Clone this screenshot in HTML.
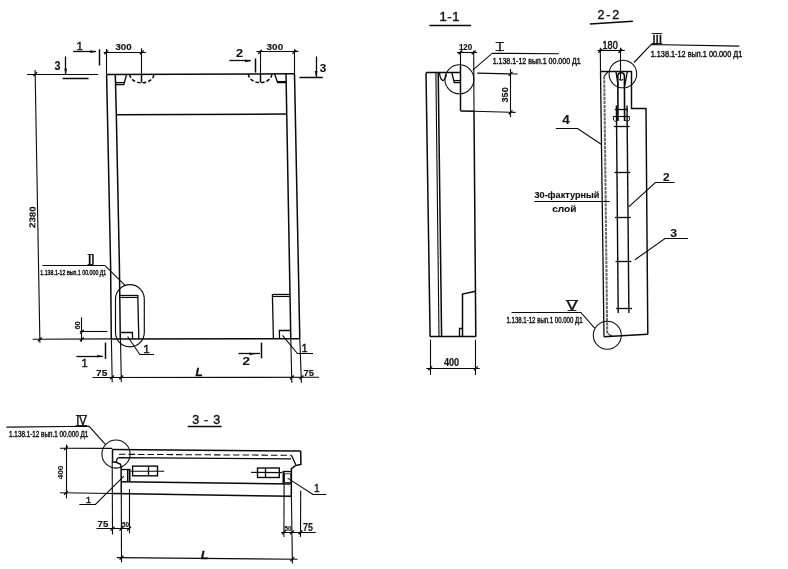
<!DOCTYPE html>
<html><head><meta charset="utf-8"><title>Drawing</title>
<style>
html,body{margin:0;padding:0;background:#fff;}
svg{display:block;filter:grayscale(1);font-family:"Liberation Sans",sans-serif;}
</style></head>
<body>
<svg width="788" height="569" viewBox="0 0 788 569" stroke="#0a0a0a" stroke-linecap="butt" stroke-linejoin="miter">
<rect x="0" y="0" width="788" height="569" fill="#fff" stroke="none"/>
<line x1="106.5" y1="74.5" x2="294.5" y2="73.8" stroke-width="1.5" />
<polyline points="106.6,74.5 110.6,265 111.3,338.9" stroke-width="1.5" fill="none" />
<polyline points="115.3,74.5 116.3,114 119.4,265 120.3,338.9" stroke-width="1.5" fill="none" />
<line x1="294.5" y1="73.8" x2="299.8" y2="338.7" stroke-width="1.5" />
<line x1="286" y1="73.8" x2="290.8" y2="338.7" stroke-width="1.5" />
<line x1="111.3" y1="338.9" x2="299.8" y2="338.7" stroke-width="1.5" />
<line x1="32.6" y1="339.2" x2="111.3" y2="338.9" stroke-width="1.1" />
<line x1="116" y1="114.7" x2="286.8" y2="114.1" stroke-width="1.5" />
<polyline points="126.6,74.5 123.8,84.5 115.4,84.5" stroke-width="1.3" fill="none" />
<line x1="115.3" y1="82.5" x2="124.2" y2="82.5" stroke-width="1.1" />
<path d="M129.8,74.5 A12,8.3 0 0 0 153.8,74.5" stroke-width="1.5" fill="none" stroke-dasharray="3.6 2"/>
<line x1="141.5" y1="74.5" x2="141.5" y2="82.6" stroke-width="1.5" />
<polyline points="274.5,73.8 277.6,82.5 286.2,82.5" stroke-width="1.3" fill="none" />
<line x1="277.4" y1="81.5" x2="286.2" y2="81.5" stroke-width="1.1" />
<path d="M248.4,74 A11.7,8.6 0 0 0 271.8,74" stroke-width="1.5" fill="none" stroke-dasharray="3.6 2"/>
<line x1="260.5" y1="73.7" x2="260.5" y2="82.4" stroke-width="1.5" />
<line x1="103.7" y1="52.5" x2="145.9" y2="52.5" stroke-width="1.1" />
<line x1="106.5" y1="49" x2="106.5" y2="74" stroke-width="1.1" />
<line x1="141.5" y1="48.3" x2="141.5" y2="74" stroke-width="1.1" />
<line x1="104.4" y1="54.2" x2="108.2" y2="50.4" stroke-width="1.3" />
<line x1="139.9" y1="54.2" x2="143.7" y2="50.4" stroke-width="1.3" />
<text x="115.4" y="50.4" font-size="9" font-weight="bold" text-anchor="start" stroke="#111" stroke-width="0.12" fill="#111" textLength="16.3" lengthAdjust="spacingAndGlyphs" >300</text>
<line x1="256.4" y1="51.5" x2="298.5" y2="51.5" stroke-width="1.1" />
<line x1="260.5" y1="50.3" x2="260.5" y2="73.7" stroke-width="1.1" />
<line x1="294.5" y1="49.3" x2="294.5" y2="73.7" stroke-width="1.1" />
<line x1="258.2" y1="53.8" x2="262.0" y2="50.0" stroke-width="1.3" />
<line x1="292.5" y1="53.8" x2="296.3" y2="50.0" stroke-width="1.3" />
<text x="266.6" y="50" font-size="9.2" font-weight="bold" text-anchor="start" stroke="#111" stroke-width="0.12" fill="#111" textLength="16.6" lengthAdjust="spacingAndGlyphs" >300</text>
<text x="76.4" y="49.7" font-size="11.6" font-weight="normal" text-anchor="start" stroke="#111" stroke-width="0.4" fill="#111" >1</text>
<line x1="73.2" y1="51.5" x2="96.1" y2="51.5" stroke-width="1.3" />
<polygon points="96.3,51.7 90.3,50.300000000000004 90.3,53.1" fill="#111" stroke="none"/>
<line x1="99.5" y1="49.3" x2="99.5" y2="65.5" stroke-width="1.5" />
<text x="54.6" y="70.2" font-size="12" font-weight="bold" text-anchor="start" stroke="#111" stroke-width="0.12" fill="#111" textLength="6" lengthAdjust="spacingAndGlyphs" >3</text>
<line x1="65.5" y1="56.4" x2="65.5" y2="74.5" stroke-width="1.3" />
<polygon points="65.7,74.7 64.3,68.7 67.10000000000001,68.7" fill="#111" stroke="none"/>
<line x1="62.6" y1="78.5" x2="88.6" y2="78.5" stroke-width="1.5" />
<text x="236" y="57.4" font-size="10" font-weight="bold" text-anchor="start" stroke="#111" stroke-width="0.12" fill="#111" textLength="7" lengthAdjust="spacingAndGlyphs" >2</text>
<line x1="229.4" y1="60.5" x2="250.8" y2="60.5" stroke-width="1.3" />
<polygon points="251,60.9 245,59.5 245,62.3" fill="#111" stroke="none"/>
<line x1="255.5" y1="58.4" x2="255.5" y2="72.6" stroke-width="1.5" />
<line x1="316.5" y1="56.4" x2="316.5" y2="77" stroke-width="1.3" />
<polygon points="316.1,77 314.70000000000005,71 317.5,71" fill="#111" stroke="none"/>
<line x1="299.5" y1="77.5" x2="322.8" y2="77.5" stroke-width="1.5" />
<text x="319.8" y="71.6" font-size="11" font-weight="bold" text-anchor="start" stroke="#111" stroke-width="0.12" fill="#111" textLength="6.5" lengthAdjust="spacingAndGlyphs" >3</text>
<line x1="105.5" y1="342.6" x2="105.5" y2="358.9" stroke-width="1.5" />
<line x1="76.4" y1="356.5" x2="103" y2="356.5" stroke-width="1.3" />
<polygon points="103.3,356.2 97.3,354.8 97.3,357.59999999999997" fill="#111" stroke="none"/>
<text x="81.6" y="367.4" font-size="11.2" font-weight="normal" text-anchor="start" stroke="#111" stroke-width="0.4" fill="#111" >1</text>
<line x1="261.5" y1="342.7" x2="261.5" y2="358.3" stroke-width="1.5" />
<line x1="238.5" y1="353.5" x2="260" y2="353.5" stroke-width="1.3" />
<polygon points="255,353.9 249.5,352.5 249.5,355.29999999999995" fill="#111" stroke="none"/>
<text x="242.5" y="365.4" font-size="10.5" font-weight="bold" text-anchor="start" stroke="#111" stroke-width="0.12" fill="#111" textLength="7.5" lengthAdjust="spacingAndGlyphs" >2</text>
<line x1="35.1" y1="70" x2="39.9" y2="342.8" stroke-width="1.1" />
<line x1="27.1" y1="74.5" x2="98.2" y2="74.5" stroke-width="1.1" />
<line x1="33.3" y1="75.96" x2="37.1" y2="72.16" stroke-width="1.3" />
<line x1="37.95" y1="341.3" x2="41.75" y2="337.5" stroke-width="1.3" />
<text x="35.2" y="227.9" font-size="8.6" font-weight="bold" text-anchor="start" stroke="#111" stroke-width="0.12" fill="#111" textLength="21.4" lengthAdjust="spacingAndGlyphs" transform="rotate(-89 35.2 227.9)" >2380</text>
<line x1="42.5" y1="265.5" x2="105.3" y2="265.5" stroke-width="1.1" />
<line x1="105.3" y1="265.9" x2="125.6" y2="285.8" stroke-width="1.1" />
<text x="87.8" y="264.3" font-size="13.5" font-weight="normal" text-anchor="start" stroke="#111" stroke-width="0.45" fill="#111" letter-spacing="-0.45">II</text>
<line x1="87.6" y1="254.5" x2="93.6" y2="254.5" stroke-width="0.9" />
<line x1="87.6" y1="264.5" x2="93.6" y2="264.5" stroke-width="0.9" />
<text x="40.3" y="274.8" font-size="7.2" font-weight="normal" text-anchor="start" stroke="#111" stroke-width="0.4" fill="#111" textLength="66" lengthAdjust="spacingAndGlyphs" >1.138.1-12 вып.1 00.000 Д1</text>
<rect x="115.5" y="284.6" width="28.8" height="62.3" rx="14.4" ry="14.4" stroke-width="1.15" fill="none"/>
<line x1="119.7" y1="295.5" x2="138" y2="295.5" stroke-width="1.3" />
<line x1="119.7" y1="297.5" x2="138" y2="297.5" stroke-width="1.1" />
<line x1="137.8" y1="295" x2="138.8" y2="339.3" stroke-width="1.3" />
<polyline points="120.4,332.5 132.4,332.5 132.6,339.3" stroke-width="1.3" fill="none" />
<line x1="272.4" y1="294.4" x2="273.4" y2="339" stroke-width="1.3" />
<line x1="272.4" y1="294.5" x2="289.7" y2="294.5" stroke-width="1.3" />
<line x1="272.4" y1="296.5" x2="289.7" y2="296.5" stroke-width="1.1" />
<polyline points="279.5,339 279.4,330.5 290.7,330.5" stroke-width="1.3" fill="none" />
<line x1="81.5" y1="317.3" x2="81.5" y2="341.8" stroke-width="1.1" />
<line x1="79.9" y1="331.5" x2="107.3" y2="331.5" stroke-width="1.1" />
<line x1="80.0" y1="333.6" x2="83.8" y2="329.8" stroke-width="1.3" />
<line x1="80.0" y1="341.3" x2="83.8" y2="337.5" stroke-width="1.3" />
<text x="79.8" y="329.6" font-size="7.5" font-weight="bold" text-anchor="start" stroke="#111" stroke-width="0.12" fill="#111" textLength="8.3" lengthAdjust="spacingAndGlyphs" transform="rotate(-90 79.8 329.6)" >60</text>
<line x1="111.4" y1="339.3" x2="112.2" y2="382.2" stroke-width="1.1" />
<line x1="120.5" y1="339.3" x2="121.3" y2="382.2" stroke-width="1.1" />
<line x1="290.8" y1="338.7" x2="291.8" y2="382.7" stroke-width="1.1" />
<line x1="299.8" y1="338.7" x2="301.4" y2="382.7" stroke-width="1.1" />
<line x1="92.5" y1="377.5" x2="319" y2="377.3" stroke-width="1.1" />
<line x1="110.2" y1="379.3" x2="114.0" y2="375.5" stroke-width="1.3" />
<line x1="119.3" y1="379.3" x2="123.1" y2="375.5" stroke-width="1.3" />
<line x1="290.0" y1="379.3" x2="293.8" y2="375.5" stroke-width="1.3" />
<line x1="299.6" y1="379.3" x2="303.4" y2="375.5" stroke-width="1.3" />
<text x="96.1" y="375.8" font-size="9.3" font-weight="bold" text-anchor="start" stroke="#111" stroke-width="0.12" fill="#111" textLength="11.2" lengthAdjust="spacingAndGlyphs" >75</text>
<text x="195.6" y="375.8" font-size="11" font-weight="bold" text-anchor="start" stroke="#111" stroke-width="0.3" fill="#111" textLength="7.2" lengthAdjust="spacingAndGlyphs" font-style="italic">L</text>
<text x="303.5" y="375.7" font-size="9.6" font-weight="bold" text-anchor="start" stroke="#111" stroke-width="0.12" fill="#111" textLength="10.5" lengthAdjust="spacingAndGlyphs" >75</text>
<polyline points="127.6,336.5 139.8,354.5 154,354.5" stroke-width="1.1" fill="none" />
<text x="143.2" y="353.2" font-size="11.6" font-weight="normal" text-anchor="start" stroke="#111" stroke-width="0.4" fill="#111" >1</text>
<polyline points="282.5,335.4 297.4,353.5 313,353.5" stroke-width="1.1" fill="none" />
<text x="301.6" y="352" font-size="11" font-weight="normal" text-anchor="start" stroke="#111" stroke-width="0.4" fill="#111" >1</text>
<text x="439.6" y="21.3" font-size="13" font-weight="normal" text-anchor="start" stroke="#111" stroke-width="0.4" fill="#111" textLength="19.8" lengthAdjust="spacing" >1-1</text>
<line x1="429.4" y1="25.5" x2="471.1" y2="25.5" stroke-width="1.5" />
<text x="458.9" y="49.8" font-size="9.3" font-weight="bold" text-anchor="start" stroke="#111" stroke-width="0.12" fill="#111" textLength="13.4" lengthAdjust="spacingAndGlyphs" >120</text>
<line x1="456.9" y1="52.5" x2="477.2" y2="52.5" stroke-width="1.1" />
<line x1="458.6" y1="54.3" x2="462.4" y2="50.5" stroke-width="1.3" />
<line x1="471.8" y1="54.3" x2="475.6" y2="50.5" stroke-width="1.3" />
<line x1="460.5" y1="50.8" x2="460.5" y2="66" stroke-width="1.1" />
<line x1="460.5" y1="66" x2="460.5" y2="110.9" stroke-width="1.5" />
<line x1="473.7" y1="50.8" x2="474" y2="111.2" stroke-width="1.1" />
<circle cx="459.4" cy="79.3" r="14.5" stroke-width="1.05" fill="none"/>
<polyline points="472.7,70.1 492.4,53.2 558.9,53.8" stroke-width="1.1" fill="none" />
<text x="498.2" y="50.6" font-size="11.5" font-weight="normal" text-anchor="start" stroke="#111" stroke-width="0.5" fill="#111" >I</text>
<line x1="495.6" y1="42.5" x2="504" y2="42.5" stroke-width="0.9" />
<line x1="495.6" y1="50.5" x2="504" y2="50.5" stroke-width="0.9" />
<text x="492.7" y="63.5" font-size="8.3" font-weight="normal" text-anchor="start" stroke="#111" stroke-width="0.4" fill="#111" textLength="88" lengthAdjust="spacingAndGlyphs" >1.138.1-12 вып.1 00.000 Д1</text>
<line x1="426" y1="72.8" x2="430.1" y2="336.7" stroke-width="1.5" />
<line x1="426" y1="72.5" x2="460.5" y2="72.5" stroke-width="1.5" />
<line x1="435.9" y1="73" x2="439" y2="336.7" stroke-width="1.1" />
<line x1="438.2" y1="73" x2="441.6" y2="336.7" stroke-width="1.5" />
<path d="M439.6,73 Q440,80 443.3,80.5 Q445.6,79.2 446.4,74.5" stroke-width="1.3" fill="none" />
<polyline points="451.9,72.8 454.2,82.5 460.5,82.5" stroke-width="1.3" fill="none" />
<line x1="453.8" y1="80.5" x2="460.5" y2="80.5" stroke-width="1.1" />
<line x1="460.5" y1="110.9" x2="474" y2="111.3" stroke-width="1.5" />
<line x1="474" y1="111.3" x2="515.5" y2="112.4" stroke-width="1.1" />
<line x1="474" y1="111.3" x2="475.8" y2="336.7" stroke-width="1.5" />
<polyline points="475.6,291.3 462.5,294 462.5,336.8" stroke-width="1.5" fill="none" />
<line x1="430.1" y1="336.5" x2="475.8" y2="336.5" stroke-width="1.5" />
<polyline points="459.5,336.7 459.5,328.5 462.2,328.5" stroke-width="1.3" fill="none" />
<line x1="510.5" y1="69" x2="510.5" y2="117" stroke-width="1.1" />
<line x1="477.2" y1="73.1" x2="517.6" y2="74" stroke-width="1.1" />
<line x1="508.7" y1="75.7" x2="512.5" y2="71.9" stroke-width="1.3" />
<line x1="508.7" y1="114.2" x2="512.5" y2="110.4" stroke-width="1.3" />
<text x="508.4" y="102.6" font-size="9" font-weight="bold" text-anchor="start" stroke="#111" stroke-width="0.12" fill="#111" textLength="15.4" lengthAdjust="spacingAndGlyphs" transform="rotate(-90 508.4 102.6)" >350</text>
<line x1="430.5" y1="339.7" x2="430.5" y2="375" stroke-width="1.1" />
<line x1="475.5" y1="339.7" x2="475.5" y2="375" stroke-width="1.1" />
<line x1="426.3" y1="368.5" x2="479.8" y2="368.5" stroke-width="1.1" />
<line x1="428.3" y1="370.2" x2="432.1" y2="366.4" stroke-width="1.3" />
<line x1="473.9" y1="370.2" x2="477.7" y2="366.4" stroke-width="1.3" />
<text x="443.9" y="365.9" font-size="10" font-weight="bold" text-anchor="start" stroke="#111" stroke-width="0.12" fill="#111" textLength="15.3" lengthAdjust="spacingAndGlyphs" >400</text>
<text x="597.4" y="19.3" font-size="12.5" font-weight="normal" text-anchor="start" stroke="#111" stroke-width="0.4" fill="#111" textLength="21.8" lengthAdjust="spacing" >2-2</text>
<line x1="589.9" y1="24" x2="632.9" y2="21.3" stroke-width="1.5" />
<text x="602.5" y="49.2" font-size="10.3" font-weight="normal" text-anchor="start" stroke="#111" stroke-width="0.45" fill="#111" textLength="15.2" lengthAdjust="spacingAndGlyphs" >180</text>
<line x1="597.4" y1="50.5" x2="624.8" y2="50.5" stroke-width="1.1" />
<line x1="598.4" y1="52.7" x2="602.2" y2="48.9" stroke-width="1.3" />
<line x1="618.4" y1="52.7" x2="622.2" y2="48.9" stroke-width="1.3" />
<line x1="600.3" y1="47.7" x2="600.5" y2="71.2" stroke-width="1.1" />
<line x1="620.5" y1="47.7" x2="620.5" y2="79.7" stroke-width="1.1" />
<circle cx="622.9" cy="74" r="13.8" stroke-width="1.05" fill="none"/>
<polyline points="634,62.5 651.1,44.5 739.3,46.1" stroke-width="1.1" fill="none" />
<text x="652.3" y="43.5" font-size="12.5" font-weight="normal" text-anchor="start" stroke="#111" stroke-width="0.45" fill="#111" letter-spacing="-0.3">III</text>
<line x1="651.6" y1="33.5" x2="662.2" y2="33.5" stroke-width="0.9" />
<line x1="651.6" y1="43.5" x2="662.2" y2="43.5" stroke-width="0.9" />
<text x="650.7" y="56.6" font-size="8.6" font-weight="normal" text-anchor="start" stroke="#111" stroke-width="0.4" fill="#111" textLength="91.6" lengthAdjust="spacingAndGlyphs" >1.138.1-12 вып.1 00.000 Д1</text>
<line x1="600.5" y1="71.5" x2="631.9" y2="71.5" stroke-width="1.45" />
<line x1="600.5" y1="71.3" x2="604" y2="336.7" stroke-width="1.3" />
<line x1="604.2" y1="76.2" x2="607.2" y2="333" stroke-width="2.0" stroke="#6a6a6a" stroke-dasharray="3.3 0.8"/>
<line x1="608.3" y1="71.3" x2="604.2" y2="76.2" stroke-width="1.1" />
<polyline points="631.5,71.3 631.5,108.5 646,108.5 647.8,334.3" stroke-width="1.45" fill="none" />
<line x1="604" y1="336.7" x2="647.8" y2="334.3" stroke-width="1.45" />
<path d="M607.4,332.6 Q608,335 612.5,336.2" stroke-width="1.0" fill="none" />
<line x1="616" y1="71.7" x2="618.2" y2="86.4" stroke-width="1.3" />
<line x1="627.3" y1="71.7" x2="624.6" y2="86.4" stroke-width="1.3" />
<path d="M618,121 L617.8,76.2 Q617.8,72.7 621.1,72.7 Q624.4,72.7 624.4,76.2 L624.6,121" stroke-width="1.6" fill="none" />
<path d="M619.2,79.2 Q621,81.4 623,79.2" stroke-width="1.1" fill="none" />
<line x1="614.7" y1="109.5" x2="628" y2="109.5" stroke-width="1.3" />
<path d="M613.3,116.2 L613.5,120 Q615.4,123 617.5,120 L617.5,116.2" stroke-width="0.9" fill="none" />
<path d="M624.4,116.2 L624.6,120 Q627,123 629.4,120 L629.4,116.2" stroke-width="0.9" fill="none" />
<line x1="613.3" y1="116.5" x2="629.4" y2="116.5" stroke-width="1.1" />
<line x1="616.4" y1="105.6" x2="618.2" y2="313" stroke-width="1.4" />
<line x1="627" y1="105.6" x2="628.9" y2="313" stroke-width="1.4" />
<line x1="613.86" y1="126.5" x2="629.66" y2="126.5" stroke-width="1.3" />
<line x1="614.44" y1="172.5" x2="630.24" y2="172.5" stroke-width="1.3" />
<line x1="615.0" y1="217.5" x2="630.8" y2="217.5" stroke-width="1.3" />
<line x1="615.56" y1="261.5" x2="631.36" y2="261.5" stroke-width="1.3" />
<line x1="616.16" y1="308.5" x2="631.96" y2="308.5" stroke-width="1.3" />
<text x="562.3" y="124.4" font-size="12.5" font-weight="bold" text-anchor="start" stroke="#111" stroke-width="0.12" fill="#111" textLength="7.5" lengthAdjust="spacingAndGlyphs" >4</text>
<polyline points="555.8,128.5 577.6,128.5 601.9,144.7" stroke-width="1.1" fill="none" />
<text x="663" y="181.4" font-size="10" font-weight="bold" text-anchor="start" stroke="#111" stroke-width="0.12" fill="#111" textLength="6.6" lengthAdjust="spacingAndGlyphs" >2</text>
<polyline points="674.5,182.5 655.4,182.5 628.7,206.9" stroke-width="1.1" fill="none" />
<text x="670.2" y="236.8" font-size="10" font-weight="bold" text-anchor="start" stroke="#111" stroke-width="0.12" fill="#111" textLength="6.8" lengthAdjust="spacingAndGlyphs" >3</text>
<polyline points="688,238.5 665,238.5 635,259.7" stroke-width="1.1" fill="none" />
<text x="534.4" y="197.8" font-size="9.6" font-weight="bold" text-anchor="start" stroke="#111" stroke-width="0.12" fill="#111" textLength="65" lengthAdjust="spacingAndGlyphs" >30-фактурный</text>
<line x1="534.4" y1="201.5" x2="609.6" y2="201.5" stroke-width="1.1" />
<text x="552.2" y="212" font-size="9.6" font-weight="bold" text-anchor="start" stroke="#111" stroke-width="0.12" fill="#111" textLength="24.2" lengthAdjust="spacingAndGlyphs" >слой</text>
<circle cx="607.3" cy="335.3" r="14" stroke-width="1.05" fill="none"/>
<polyline points="594.6,328.2 580.9,312.5 511.6,312.5" stroke-width="1.1" fill="none" />
<text x="566.8" y="310.3" font-size="13" font-weight="normal" text-anchor="start" stroke="#111" stroke-width="0.45" fill="#111" textLength="10.6" lengthAdjust="spacingAndGlyphs" >V</text>
<line x1="565.6" y1="300.5" x2="578.2" y2="300.5" stroke-width="0.9" />
<line x1="567.5" y1="310.5" x2="576.5" y2="310.5" stroke-width="0.9" />
<text x="506.5" y="322.6" font-size="8.3" font-weight="normal" text-anchor="start" stroke="#111" stroke-width="0.4" fill="#111" textLength="76" lengthAdjust="spacingAndGlyphs" >1.138.1-12 вып.1 00.000 Д1</text>
<text x="192.2" y="424.3" font-size="12.5" font-weight="normal" text-anchor="start" stroke="#111" stroke-width="0.4" fill="#111" textLength="28" lengthAdjust="spacing" >3-3</text>
<line x1="187.7" y1="426.5" x2="221.6" y2="426.5" stroke-width="1.5" />
<polyline points="6.4,427.1 89.1,426.3 105.6,444.6" stroke-width="1.1" fill="none" />
<text x="76.2" y="425.1" font-size="13" font-weight="normal" text-anchor="start" stroke="#111" stroke-width="0.45" fill="#111" textLength="10.4" lengthAdjust="spacingAndGlyphs" >IV</text>
<line x1="75.8" y1="415.5" x2="87" y2="415.5" stroke-width="0.9" />
<line x1="75.8" y1="425.5" x2="87" y2="425.5" stroke-width="0.9" />
<text x="9.1" y="437.2" font-size="8.2" font-weight="normal" text-anchor="start" stroke="#111" stroke-width="0.4" fill="#111" textLength="79.2" lengthAdjust="spacingAndGlyphs" >1.138.1-12 вып.1 00.000 Д1</text>
<circle cx="116" cy="454" r="14.1" stroke-width="1.05" fill="none"/>
<line x1="66.5" y1="444.6" x2="66.5" y2="498.4" stroke-width="1.1" />
<line x1="59.9" y1="448.2" x2="112.2" y2="448.4" stroke-width="1.1" />
<line x1="59.9" y1="492.7" x2="112.4" y2="493.5" stroke-width="1.1" />
<line x1="64.1" y1="450.1" x2="67.9" y2="446.3" stroke-width="1.3" />
<line x1="64.1" y1="494.7" x2="67.9" y2="490.9" stroke-width="1.3" />
<text x="62.8" y="479.2" font-size="8" font-weight="bold" text-anchor="start" stroke="#111" stroke-width="0.12" fill="#111" textLength="13.4" lengthAdjust="spacingAndGlyphs" transform="rotate(-90 62.8 479.2)" >400</text>
<line x1="112.2" y1="449.6" x2="300.7" y2="451" stroke-width="1.5" />
<line x1="112.5" y1="449.6" x2="112.5" y2="462" stroke-width="1.5" />
<line x1="112.2" y1="462" x2="112.5" y2="534.4" stroke-width="1.1" />
<polyline points="112.2,462 116.4,462.3 120.5,464.2 121.1,467.5 121.3,493.6" stroke-width="1.5" fill="none" />
<line x1="121.3" y1="493.6" x2="121.5" y2="562.2" stroke-width="1.1" />
<path d="M291,458.9 L119,457.7 Q116.6,458 116.3,462.2" stroke-width="1.3" fill="none" />
<line x1="119" y1="454.3" x2="291.4" y2="455.3" stroke-width="1.05" stroke-dasharray="6.5 3"/>
<polyline points="291.4,455.3 295.8,464.8" stroke-width="1.3" fill="none" />
<polyline points="300.7,451 300.9,464.4 295.8,465.5 291.4,468.6 291.3,496.4" stroke-width="1.5" fill="none" />
<line x1="112.4" y1="493.5" x2="291.4" y2="496.3" stroke-width="1.5" />
<line x1="121.3" y1="481.7" x2="291.3" y2="483.9" stroke-width="1.5" />
<rect x="132.6" y="466.1" width="24.9" height="9.7" stroke-width="1.4" fill="none"/>
<line x1="148.5" y1="466.1" x2="148.5" y2="475.6" stroke-width="1.3" />
<line x1="130.6" y1="471.2" x2="164.2" y2="471.3" stroke-width="1.1" />
<polyline points="121.3,469.5 130.4,469.5" stroke-width="1.3" fill="none" />
<line x1="129.5" y1="469.3" x2="129.5" y2="481.5" stroke-width="2" />
<line x1="127.5" y1="470" x2="127.5" y2="481.5" stroke-width="1.1" />
<rect x="257.5" y="468" width="21.8" height="9.5" stroke-width="1.4" fill="none"/>
<line x1="265.5" y1="468" x2="265.5" y2="477.5" stroke-width="1.3" />
<line x1="251.2" y1="472.4" x2="281.9" y2="472.6" stroke-width="1.1" />
<polyline points="282.5,471.5 291.3,471.5" stroke-width="1.3" fill="none" />
<line x1="283.5" y1="471.8" x2="283.5" y2="483.9" stroke-width="2" />
<rect x="284.6" y="473.8" width="6.2" height="8.8" stroke-width="0.8" fill="none"/>
<polyline points="123.9,476.1 95.4,504.5 79.3,504.5" stroke-width="1.1" fill="none" />
<text x="85.8" y="502.5" font-size="9.8" font-weight="normal" text-anchor="start" stroke="#111" stroke-width="0.35" fill="#111" >1</text>
<polyline points="287.6,478.1 313,494.5 326.3,494.5" stroke-width="1.1" fill="none" />
<text x="313.9" y="492.2" font-size="10.2" font-weight="normal" text-anchor="start" stroke="#111" stroke-width="0.35" fill="#111" >1</text>
<line x1="129.5" y1="489.1" x2="129.5" y2="533.2" stroke-width="1.1" />
<line x1="96.5" y1="528.5" x2="130" y2="528.5" stroke-width="1.1" />
<line x1="110.6" y1="530.6" x2="114.4" y2="526.8" stroke-width="1.3" />
<line x1="119.5" y1="530.6" x2="123.3" y2="526.8" stroke-width="1.3" />
<line x1="127.1" y1="530.6" x2="130.9" y2="526.8" stroke-width="1.3" />
<text x="97.6" y="527.2" font-size="9.4" font-weight="bold" text-anchor="start" stroke="#111" stroke-width="0.12" fill="#111" textLength="10.7" lengthAdjust="spacingAndGlyphs" >75</text>
<text x="121.9" y="527.1" font-size="7.8" font-weight="bold" text-anchor="start" stroke="#111" stroke-width="0.12" fill="#111" textLength="7" lengthAdjust="spacingAndGlyphs" >50</text>
<line x1="284.1" y1="484" x2="283.9" y2="537" stroke-width="1.1" />
<line x1="291.4" y1="496.3" x2="292.4" y2="563.4" stroke-width="1.1" />
<line x1="300.7" y1="490.8" x2="300.5" y2="537" stroke-width="1.1" />
<line x1="281.2" y1="532.5" x2="315.7" y2="532.5" stroke-width="1.1" />
<line x1="282.0" y1="534.2" x2="285.8" y2="530.4" stroke-width="1.3" />
<line x1="290.0" y1="534.2" x2="293.8" y2="530.4" stroke-width="1.3" />
<line x1="298.6" y1="534.2" x2="302.4" y2="530.4" stroke-width="1.3" />
<text x="284.4" y="530.5" font-size="7.8" font-weight="bold" text-anchor="start" stroke="#111" stroke-width="0.12" fill="#111" textLength="7" lengthAdjust="spacingAndGlyphs" >50</text>
<text x="303" y="531" font-size="10" font-weight="bold" text-anchor="start" stroke="#111" stroke-width="0.12" fill="#111" textLength="9.8" lengthAdjust="spacingAndGlyphs" >75</text>
<line x1="116.9" y1="557.6" x2="297.5" y2="559.3" stroke-width="1.1" />
<line x1="119.6" y1="559.6" x2="123.4" y2="555.8" stroke-width="1.3" />
<line x1="290.4" y1="561.1" x2="294.2" y2="557.3" stroke-width="1.3" />
<text x="200.8" y="558.6" font-size="11.5" font-weight="bold" text-anchor="start" stroke="#111" stroke-width="0.3" fill="#111" textLength="7.6" lengthAdjust="spacingAndGlyphs" font-style="italic">L</text>
</svg>
</body></html>
